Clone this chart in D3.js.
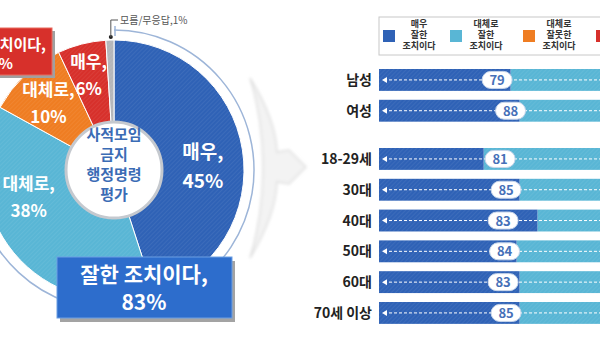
<!DOCTYPE html>
<html><head><meta charset="utf-8">
<script src="https://cdn.jsdelivr.net/npm/d3@7"></script>
<style>
body{margin:0;background:#fff}
svg{display:block}
text{font-family:"Noto Sans CJK KR","Noto Sans",sans-serif}
</style></head>
<body><svg id="c" width="600" height="339"></svg>
<script>
// ---------- DATA ----------
const pieCategories = ["매우 잘한 조치이다","대체로 잘한 조치이다","대체로 잘못한 조치이다","매우 잘못한 조치이다","모름/무응답"];
const pieValues = [45, 38, 10, 6, 1];
const pieLabels = [["매우,","45%"],["대체로,","38%"],["대체로,","10%"],["매우,","6%"],null];
const centerTitle = ["사적모임","금지","행정명령","평가"];
const goodLabel = "잘한 조치이다,";
const badLabel = "잘못한 조치이다,";
const dkLabel = "모름/무응답,";

const genderGroups = ["남성","여성"];
const ageGroups = ["18-29세","30대","40대","50대","60대","70세 이상"];
const veryGoodValues = [44, 47, 35, 47, 53, 46, 47, 47];
const goodTotalValues = [79, 88, 81, 85, 83, 84, 83, 85];
const legendLabels = [["매우","잘한","조치이다"],["대체로","잘한","조치이다"],["대체로","잘못한","조치이다"],["매우","잘못한","조치이다"]];

// ---------- STYLE ----------
const colors = ["#2f62b6","#59b6d5","#ef7d22","#d7302b","#b4b6ba"];
const svg = d3.select("#c");
const defs = svg.append("defs");
const pat = defs.append("pattern").attr("id","hatch").attr("patternUnits","userSpaceOnUse")
  .attr("width",3).attr("height",3).attr("patternTransform","rotate(45)");
pat.append("line").attr("x1",0).attr("y1",0).attr("x2",0).attr("y2",3)
  .attr("stroke","#fff").attr("stroke-opacity",0.12).attr("stroke-width",1);
const blur = defs.append("filter").attr("id","blur").attr("x","-30%").attr("y","-30%").attr("width","160%").attr("height","160%");
blur.append("feGaussianBlur").attr("stdDeviation",1.5);

// chevron decoration (faint arrow)
svg.append("path")
  .attr("d","M250,78 Q276,120 277,152 L289,150 L306,167 L289,184 L277,182 Q276,215 250,258 Q263,215 263,167 Q263,120 250,78 Z")
  .attr("fill","#f3f3f3").attr("stroke","#e0e0e0").attr("stroke-width",1.5).attr("filter","url(#blur)");

// ---------- PIE ----------
const cx = 114, cy = 170, rOut = 130, rIn = 48;
const g = svg.append("g").attr("transform",`translate(${cx},${cy})`);
const pie = d3.pie().sort(null).value(d => d)(pieValues);
const arc = d3.arc().innerRadius(rIn).outerRadius(rOut);
g.selectAll("path.sl").data(pie).join("path").attr("class","sl")
  .attr("d",arc).attr("fill",(d,i)=>colors[i]).attr("stroke","#fff").attr("stroke-width",1);
g.selectAll("path.ht").data(pie).join("path").attr("class","ht")
  .attr("d",arc).attr("fill","url(#hatch)");

// outer bracket arc for the "good" total
const goodSum = pieValues[0] + pieValues[1];
const badSum = pieValues[2] + pieValues[3];
const angScale = d3.scaleLinear().domain([0,100]).range([0,2*Math.PI]);
g.append("path").attr("d", d3.arc().innerRadius(140).outerRadius(140)({startAngle:angScale(0),endAngle:angScale(goodSum)}))
  .attr("fill","none").attr("stroke","#9db5d8").attr("stroke-width",1.5);
g.append("line").attr("x1",1).attr("x2",1).attr("y1",-144).attr("y2",-134).attr("stroke","#9db5d8").attr("stroke-width",1.5);

// inner circle
g.append("circle").attr("r",rIn).attr("fill","#fff").attr("stroke","#c5c9cf").attr("stroke-width",3);
g.selectAll("text.ct").data(centerTitle).join("text").attr("class","ct")
  .attr("x",0).attr("y",(d,i)=>-30 + i*20).attr("text-anchor","middle")
  .attr("fill","#3b6cb5").attr("font-weight","bold").attr("font-size",15).text(d=>d);

// slice labels
const labelArc = d3.arc().innerRadius(90).outerRadius(90);
const labelShift = [[0,10,19],[-16,-30,17],[-4,-1,17],[-3,-8,17]];
pie.forEach((d,i)=>{
  if(!pieLabels[i]) return;
  const [px,py] = labelArc.centroid(d);
  const [dx,dy,fs] = labelShift[i];
  const t = g.append("text").attr("text-anchor","middle").attr("fill","#fff")
    .attr("font-weight","bold").attr("font-size",fs);
  pieLabels[i].forEach((s,j)=>t.append("tspan").attr("x",px+dx).attr("y",py+dy+(j===0?-7:fs+3)).text(s));
});

// "don't know" leader
const dk = pie[4];
const dkPos = d3.arc().innerRadius(133).outerRadius(133).centroid(dk);
g.append("circle").attr("cx",dkPos[0]+1).attr("cy",dkPos[1]).attr("r",2).attr("fill","#222");
g.append("path").attr("d",`M${dkPos[0]+1},${dkPos[1]} V${-150} H${4}`).attr("fill","none").attr("stroke","#555").attr("stroke-width",1);
g.append("text").attr("x",6).attr("y",-146).attr("font-size",10).attr("fill","#555").text(dkLabel + pieValues[4] + "%");

// red callout box (bad total)
svg.append("rect").attr("x",-100).attr("y",31).attr("width",155).attr("height",47).attr("fill","#a0a0a0");
svg.append("rect").attr("x",-100).attr("y",28).attr("width",152).attr("height",47).attr("fill","#d7302b").attr("stroke","#e86a5e");
const rt = svg.append("text").attr("text-anchor","end").attr("fill","#fff").attr("font-weight","bold").attr("font-size",15);
rt.append("tspan").attr("x",46).attr("y",50).text(badLabel);
rt.append("tspan").attr("x",13).attr("y",69).text(badSum + "%");

// blue callout box (good total)
svg.append("rect").attr("x",60).attr("y",261).attr("width",175).attr("height",61).attr("fill","#a3a3a3");
svg.append("rect").attr("x",57).attr("y",257).attr("width",175).attr("height",61).attr("fill","#2d6dcc").attr("stroke","#6c9fe3").attr("stroke-width",1);
const bt = svg.append("text").attr("text-anchor","middle").attr("fill","#fff").attr("font-weight","bold").attr("font-size",21);
bt.append("tspan").attr("x",144).attr("y",282).text(goodLabel);
bt.append("tspan").attr("x",144).attr("y",310).text(goodSum + "%");

// ---------- BARS ----------
const x = d3.scaleLinear().domain([0,100]).range([379, 678]);
const step = 30.8;
const yG = d3.scaleBand().domain(genderGroups).range([69-0.145*step, 69-0.145*step + genderGroups.length*step]).paddingInner(0.29).paddingOuter(0.145);
const yA = d3.scaleBand().domain(ageGroups).range([148-0.145*step, 148-0.145*step + ageGroups.length*step]).paddingInner(0.29).paddingOuter(0.145);
const rows = genderGroups.concat(ageGroups).map((c,i)=>({
  cat:c, vg:veryGoodValues[i], tot:goodTotalValues[i],
  y:(i<genderGroups.length?yG(c):yA(c)), h:(i<genderGroups.length?yG.bandwidth():yA.bandwidth())
}));
const bars = svg.append("g");
rows.forEach(r=>{
  bars.append("rect").attr("x",x(r.vg)).attr("y",r.y).attr("width",x(r.tot)-x(r.vg)).attr("height",r.h).attr("fill",colors[1]);
  bars.append("rect").attr("x",x(0)).attr("y",r.y).attr("width",x(r.vg)-x(0)).attr("height",r.h).attr("fill",colors[0]);
  bars.append("rect").attr("x",x(0)).attr("y",r.y).attr("width",x(r.tot)-x(0)).attr("height",r.h).attr("fill","url(#hatch)");
  const ym = r.y + r.h/2;
  bars.append("line").attr("x1",x(0)+5).attr("x2",x(r.tot)).attr("y1",ym).attr("y2",ym)
    .attr("stroke","#fff").attr("stroke-width",1).attr("stroke-dasharray","3,2");
  bars.append("path").attr("d",`M${x(0)+3},${ym} l5,-3 v6 Z`).attr("fill","#fff");
  const pcx = x(r.tot/2);
  bars.append("rect").attr("x",pcx-15).attr("y",ym-8.5).attr("width",30).attr("height",17).attr("rx",8.5)
    .attr("fill","#fff").attr("stroke","#c7d5ea");
  bars.append("text").attr("x",pcx).attr("y",ym+5).attr("text-anchor","middle").attr("fill","#4670b8")
    .attr("font-weight","bold").attr("font-size",13).text(r.tot);
  bars.append("text").attr("x",372).attr("y",ym+5).attr("text-anchor","end").attr("fill","#222")
    .attr("font-weight","bold").attr("font-size",14).text(r.cat);
});

// legend
const lg = svg.append("g");
lg.append("rect").attr("x",379).attr("y",17).attr("width",240).attr("height",38).attr("fill","#fff").attr("stroke","#c8c8c8");
const legSquareX = [383,450,523,596];
legendLabels.forEach((lab,i)=>{
  const sx = legSquareX[i];
  lg.append("rect").attr("x",sx).attr("y",30).attr("width",12).attr("height",12).attr("fill",colors[i]);
  const t = lg.append("text").attr("text-anchor","middle").attr("fill","#333").attr("font-weight","bold").attr("font-size",9);
  lab.forEach((s,j)=>t.append("tspan").attr("x",sx+36).attr("y",27+j*11).text(s));
});
</script></body></html>
